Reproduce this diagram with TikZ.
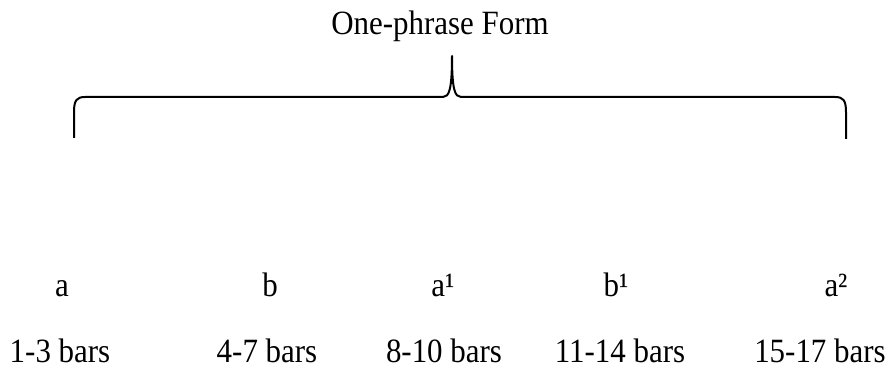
\documentclass[tikz,border=0pt]{standalone}
\usepackage{fontspec}
\setmainfont{Liberation Serif}[FakeStretch=0.91]
\usepackage{tikz}
\usetikzlibrary{positioning}

\begin{document}
\begin{tikzpicture}[
  x=0.5pt, y=-0.5pt,
  every node/.style={font=\fontsize{17}{20}\selectfont, inner sep=0pt, anchor=base},
  brace/.style={draw, line width=1pt, line join=round}
]
  \useasboundingbox (0,0) rectangle (890,374);

  \node (title) at (440,35) {One-phrase Form};

  % brace over the whole form
  \coordinate (braceL) at (74,138);
  \coordinate (tip)    at (452,56);
  \coordinate (braceR) at (846,139);
  \path[brace] (braceL) -- (74,112) .. controls (74,100) and (77,97) .. (85,97)
    -- (443,97) .. controls (449,97) and (452,90) .. (tip)
    .. controls (452,90) and (455,97) .. (461,97)
    -- (835,97) .. controls (843,97) and (846,100) .. (846,112) -- (braceR);

  % sections
  \node (a)  at (62,297)  {a};
  \node (b)  at (270,297) {b};
  \node (a1) at (443,297) {a¹};
  \node (b1) at (616,297) {b¹};
  \node (a2) at (836,297) {a²};

  % bar ranges
  \node (barsA)  at (60,362)  {1-3 bars};
  \node (barsB)  at (267,362) {4-7 bars};
  \node (barsA1) at (444,362) {8-10 bars};
  \node (barsB1) at (620,362) {11-14 bars};
  \node (barsA2) at (820,362) {15-17 bars};
\end{tikzpicture}
\end{document}
